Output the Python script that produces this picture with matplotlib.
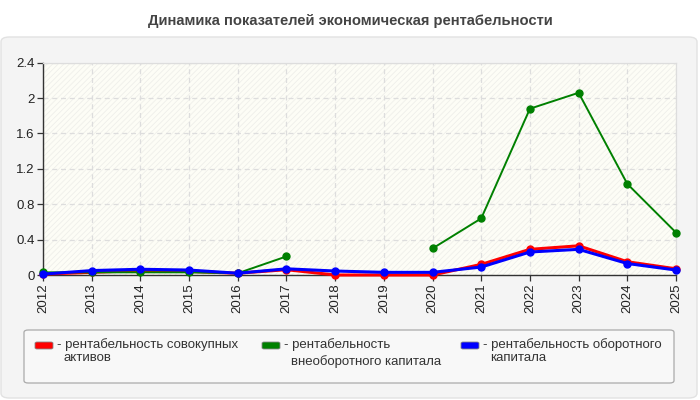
import numpy as np
import matplotlib
matplotlib.use("Agg")
import matplotlib.pyplot as plt
from matplotlib.patches import FancyBboxPatch

years = [2012, 2013, 2014, 2015, 2016, 2017, 2018, 2019, 2020, 2021, 2022, 2023, 2024, 2025]
red_vals = [0.01, 0.03, 0.05, 0.04, 0.02, 0.06, 0.0, 0.0, 0.0, 0.12, 0.29, 0.33, 0.15, 0.07]
green_vals = [0.03, 0.03, 0.03, 0.03, 0.02, 0.21, np.nan, np.nan, 0.30, 0.64, 1.88, 2.06, 1.03, 0.48]
blue_vals = [0.01, 0.05, 0.065, 0.056, 0.02, 0.07, 0.045, 0.03, 0.03, 0.09, 0.26, 0.29, 0.13, 0.056]
yticks = [0, 0.4, 0.8, 1.2, 1.6, 2, 2.4]
ytick_labels = ["0", "0.4", "0.8", "1.2", "1.6", "2", "2.4"]
title = "Динамика показателей экономическая рентабельности"
legend_lines = [
    ("#ff0000", "- рентабельность совокупных", "активов"),
    ("#008000", "- рентабельность", "внеоборотного капитала"),
    ("#0000ff", "- рентабельность оборотного", "капитала"),
]

plt.rcParams['font.family'] = ['Liberation Sans', 'DejaVu Sans']
plt.rcParams['hatch.linewidth'] = 0.6

W, H = 700, 400
fig = plt.figure(figsize=(7, 4), dpi=100)
fig.patch.set_facecolor("white")

def fx(x):
    return x / W

def fy(y):
    return 1 - y / H

# outer panel
panel = FancyBboxPatch((fx(1), fy(398)), fx(696), (398 - 37) / H,
                       boxstyle="round,pad=0,rounding_size=0.012",
                       transform=fig.transFigure, facecolor="#f4f4f4",
                       edgecolor="#e2e2e2", linewidth=1, zorder=-5)
fig.patches.append(panel)

fig.text(0.5, fy(21), title, ha="center", va="center", fontsize=10.6,
         fontweight="bold", color="#444444",
         family=['Liberation Sans Narrow', 'Liberation Sans', 'DejaVu Sans'])

ax = fig.add_axes([fx(43), fy(275), fx(676 - 43), (275 - 62.7) / H])
ax.set_zorder(5)
ax.set_facecolor("#fdfdf6")
ax.axhspan(0, 2.4, facecolor="none", hatch="//////", edgecolor="#efefea",
           linewidth=0, zorder=0)

ax.plot(years, red_vals, color="#ff0000", lw=2.2, marker="o", ms=5, zorder=3)
ax.plot(years, green_vals, color="#008000", lw=1.4, marker="o", ms=5, zorder=4)
ax.plot(years, blue_vals, color="#0000ff", lw=2.2, marker="o", ms=5, zorder=5)

ax.set_xlim(2012, 2025)
ax.set_ylim(0, 2.4)
ax.set_xticks(years)
ax.set_xticklabels([str(y) for y in years], rotation=90, fontsize=9.5, color="#222222")
ax.set_yticks(yticks)
ax.set_yticklabels(ytick_labels, fontsize=9.5, color="#222222")
ax.grid(True, color="#dddddd", linestyle=(0, (4, 3)), linewidth=0.9)
ax.set_axisbelow(True)
for s in ["top", "right"]:
    ax.spines[s].set_color("#dddddd")
    ax.spines[s].set_linewidth(0.9)
for s in ["left", "bottom"]:
    ax.spines[s].set_color("#333333")
    ax.spines[s].set_linewidth(1)
ax.tick_params(axis="both", length=4, width=0.9, color="#333333", pad=2)
for c in ax.collections + ax.lines:
    c.set_clip_on(False)

# legend box
lbox = FancyBboxPatch((fx(24), fy(383)), fx(674 - 24), (383 - 330) / H,
                      boxstyle="round,pad=0,rounding_size=0.006",
                      transform=fig.transFigure, facecolor="#f8f8f8",
                      edgecolor="#aaaaaa", linewidth=0.9, zorder=1)
fig.patches.append(lbox)

xs = [35, 262, 461]
second_y = [358, 362, 358]
for (col, l1, l2), x0, y2 in zip(legend_lines, xs, second_y):
    p = FancyBboxPatch((fx(x0), fy(349)), fx(18), 7 / H,
                       boxstyle="round,pad=0,rounding_size=0.003",
                       transform=fig.transFigure, facecolor=col,
                       edgecolor="#888888", linewidth=0.6, zorder=2)
    fig.patches.append(p)
    fig.text(fx(x0 + 22), fy(345), l1, ha="left", va="center", fontsize=9.5,
             color="#333333")
    fig.text(fx(x0 + 29), fy(y2), l2, ha="left", va="center", fontsize=9.5,
             color="#333333")

fig.savefig("out.png", dpi=100, facecolor=fig.get_facecolor())
